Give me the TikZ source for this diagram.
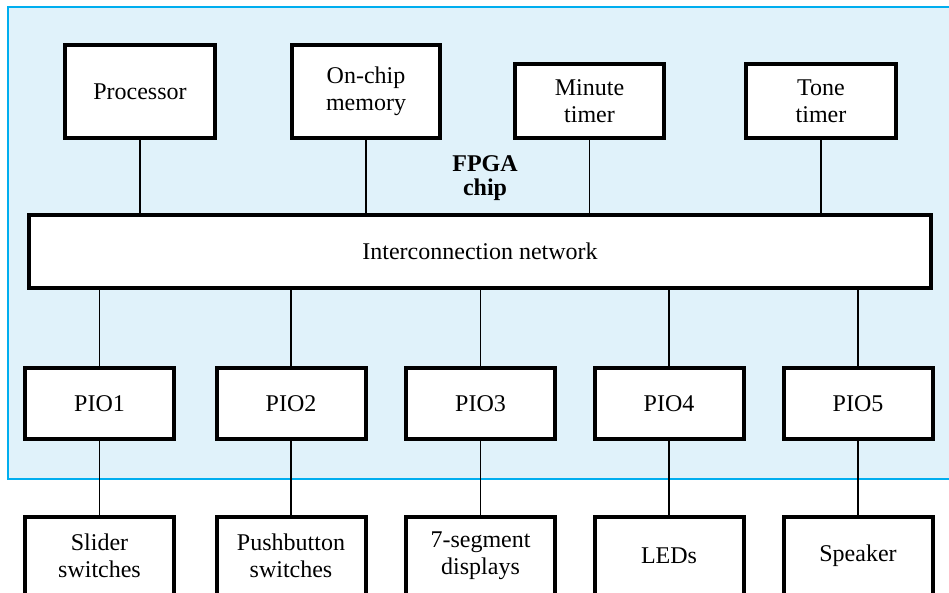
\documentclass[tikz,border=0pt]{standalone}
\usepackage{fontspec}
\setmainfont{Liberation Serif}
\usetikzlibrary{positioning}
\definecolor{ChipFillColor}{RGB}{224,242,250}
\definecolor{ChipLineColor}{RGB}{0,174,239}

\begin{document}
\begin{tikzpicture}[x=1pt,y=-1pt,font=\fontsize{24}{27}\selectfont,blk/.style 2 args={draw,line width=4pt,fill=white,rectangle,minimum width=#1pt,minimum height=#2pt,inner sep=0pt,align=center},wire/.style={line width=1.5pt}]
\useasboundingbox (0,0) rectangle (949,592);
\clip (0,0) rectangle (949,592);
\draw[ChipLineColor,fill=ChipFillColor,line width=2pt] (8,7) rectangle (970,479);
\node[blk={150}{93}](proc) at(140,91.5) {Processor};
\node[blk={148}{93}](mem) at(366,91.5) {On-chip\\memory};
\node[blk={149}{74}](mint) at(589.5,101) {Minute\\timer};
\node[blk={150}{74}](tone) at(821,101) {Tone\\timer};
\node[font=\bfseries\fontsize{24}{23.5}\selectfont,align=center](chip) at(485,178) {FPGA\\chip};
\node[blk={902}{73}](net) at(480,251.5) {Interconnection network};
\foreach \n in {proc,mem,mint,tone} {
   \draw[wire] (\n.south) -- (\n.south |- net.north);
}
\foreach \i/\x/\t in %
{1/99.5/{Slider\\switches},2/291/{Pushbutton\\switches},3/480.5/{7-segment\\displays},4/669/LEDs,5/858/Speaker} {
   \node[blk={149}{71}](pio\i) at(\x,403.5) {PIO\i};
   \node[blk={149}{78}](dev\i) at(\x,556) {\t};
   \draw[wire] (pio\i.north |- net.south) -- (pio\i.north);
   \draw[wire] (pio\i.south) -- (dev\i.north);
}
\end{tikzpicture}
\end{document}
